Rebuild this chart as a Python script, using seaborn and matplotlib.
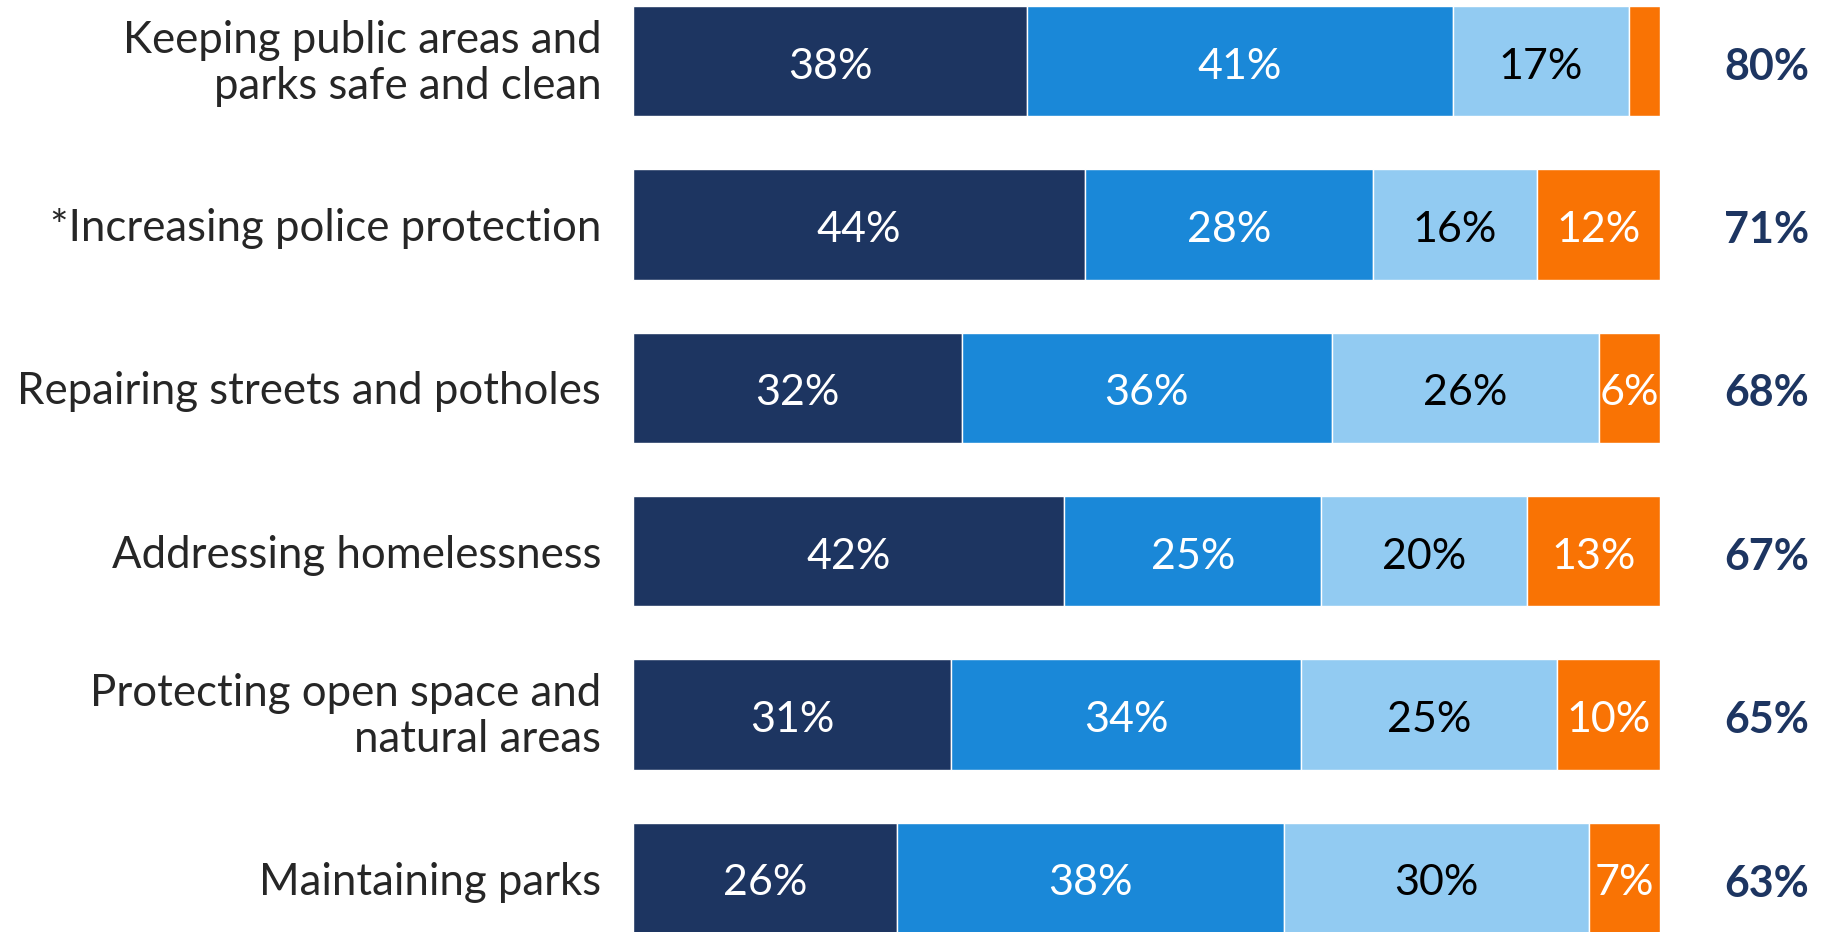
import numpy as np
import seaborn as sns
import matplotlib.pyplot as plt
import matplotlib.transforms as mtransforms

# survey items, top to bottom
categories = ["Keeping public areas and\nparks safe and clean",
              "*Increasing police protection",
              "Repairing streets and potholes",
              "Addressing homelessness",
              "Protecting open space and\nnatural areas",
              "Maintaining parks"]

# segment shares (%)
extremely = [38, 44, 32, 42, 31, 26]
very = [41, 28, 36, 25, 34, 38]
somewhat = [17, 16, 26, 20, 25, 30]
not_important = [3, 12, 6, 13, 10, 7]
totals = [80, 71, 68, 67, 65, 63]

colors = ["#1d3561", "#1a88d8", "#92cbf2", "#f97304"]
text_colors = ["white", "white", "black", "white"]

sns.set_style("white")
plt.rcParams['font.family'] = ['Lato', 'DejaVu Sans']

fig = plt.figure(figsize=(18.26, 9.32), dpi=100)
ax = fig.add_axes([0.3467, 0.0, 0.5625, 1.0])

series = [extremely, very, somewhat, not_important]
# rounded shares don't always add to 100, bars are drawn full width
row_sum = np.sum(series, axis=0)
left = np.zeros(len(categories))
for vals, c, tc in zip(series, colors, text_colors):
    widths = np.array(vals) / row_sum * 100
    sns.barplot(x=widths, y=categories, left=left, color=c, width=0.675,
                orient='h', ax=ax, saturation=1)
    cont = ax.containers[-1]
    labels = [f"{v}%" if v >= 5 else "" for v in vals]
    texts = ax.bar_label(cont, labels=labels, label_type='center', color=tc,
                         fontsize=31)
    for t in texts:
        t.xyann = (0, -4)
    left = left + widths

for i, t in enumerate(totals):
    ax.annotate(f"{t}%", (110.4, i), xytext=(0, -4),
                textcoords='offset points', ha='center', va='center',
                fontsize=31, fontweight='bold', color="#1d3561",
                annotation_clip=False)

ax.set_xlim(0, 100)
ax.set_ylim(5.33, -0.373)
ax.set_xlabel("")
ax.set_ylabel("")
ax.set_xticks([])
ax.tick_params(axis='y', length=0, pad=23, labelsize=31.5)
shift_up = mtransforms.ScaledTranslation(0, 3 / 72, fig.dpi_scale_trans)
for lbl in ax.get_yticklabels():
    lbl.set_horizontalalignment('right')
    lbl.set_linespacing(1.15)
    if "\n" in lbl.get_text():
        lbl.set_transform(lbl.get_transform() + shift_up)
sns.despine(ax=ax, left=True, bottom=True)

plt.savefig("out.png", dpi=100)
plt.close()
